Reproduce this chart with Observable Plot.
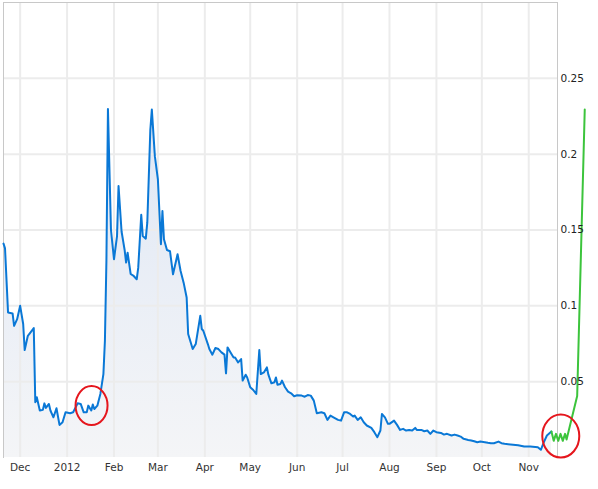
<!DOCTYPE html>
<html><head><meta charset="utf-8">
<script src="https://cdn.jsdelivr.net/npm/d3@7"></script>
<script src="https://cdn.jsdelivr.net/npm/@observablehq/plot@0.6"></script>
<style>body{margin:0;background:#fff}</style>
</head><body><div id="chart"></div>
<script>
const priceDates = ["2011-11-20","2011-11-21","2011-11-23","2011-11-26","2011-11-27","2011-11-29","2011-12-01","2011-12-03","2011-12-04","2011-12-06","2011-12-07","2011-12-10","2011-12-11","2011-12-12","2011-12-14","2011-12-16","2011-12-17","2011-12-18","2011-12-20","2011-12-21","2011-12-23","2011-12-25","2011-12-27","2011-12-29","2011-12-31",
"2012-01-03","2012-01-05","2012-01-08","2012-01-10","2012-01-12","2012-01-14","2012-01-15","2012-01-17","2012-01-18","2012-01-19","2012-01-21","2012-01-23","2012-01-25","2012-01-26","2012-01-27","2012-01-28","2012-01-30",
"2012-02-01","2012-02-03","2012-02-04","2012-02-06","2012-02-08","2012-02-09","2012-02-10","2012-02-12","2012-02-14","2012-02-16","2012-02-17","2012-02-19","2012-02-20","2012-02-22","2012-02-23","2012-02-25","2012-02-26","2012-02-28",
"2012-03-01","2012-03-03","2012-03-04","2012-03-05","2012-03-07","2012-03-09","2012-03-11","2012-03-14","2012-03-16","2012-03-18","2012-03-20","2012-03-21","2012-03-24","2012-03-26","2012-03-29","2012-03-30","2012-03-31",
"2012-04-03","2012-04-04","2012-04-06","2012-04-08","2012-04-10","2012-04-12","2012-04-14","2012-04-15","2012-04-16","2012-04-18","2012-04-20","2012-04-21","2012-04-23","2012-04-25","2012-04-26","2012-04-28","2012-04-29",
"2012-05-01","2012-05-03","2012-05-05","2012-05-07","2012-05-08","2012-05-10","2012-05-12","2012-05-13","2012-05-15","2012-05-17","2012-05-18","2012-05-19","2012-05-21","2012-05-22","2012-05-24","2012-05-26","2012-05-28","2012-05-30",
"2012-06-01","2012-06-04","2012-06-06","2012-06-08","2012-06-10","2012-06-12","2012-06-14","2012-06-17","2012-06-19","2012-06-21","2012-06-23","2012-06-25","2012-06-28","2012-06-30",
"2012-07-02","2012-07-04","2012-07-06","2012-07-08","2012-07-09","2012-07-11","2012-07-13","2012-07-15","2012-07-17","2012-07-20","2012-07-22","2012-07-24","2012-07-26","2012-07-27","2012-07-29","2012-07-31",
"2012-08-01","2012-08-04","2012-08-06","2012-08-08","2012-08-10","2012-08-12","2012-08-14","2012-08-16","2012-08-18","2012-08-19","2012-08-22","2012-08-24","2012-08-26","2012-08-28","2012-08-30",
"2012-09-01","2012-09-04","2012-09-06","2012-09-08","2012-09-11","2012-09-13","2012-09-15","2012-09-17","2012-09-19","2012-09-22","2012-09-24","2012-09-26","2012-09-28","2012-09-30",
"2012-10-03","2012-10-05","2012-10-07","2012-10-09","2012-10-12","2012-10-14","2012-10-16","2012-10-20","2012-10-25","2012-10-29",
"2012-11-02","2012-11-07","2012-11-09","2012-11-11","2012-11-13","2012-11-16"];
const priceValues = [0.141,0.138,0.0956,0.095,0.0868,0.0912,0.100,0.088,0.0708,0.080,0.0814,0.0853,0.0364,0.0397,0.031,0.0314,0.0357,0.0327,0.0353,0.031,0.0265,0.0325,0.0215,0.0232,0.0298,
0.0292,0.0298,0.0357,0.0353,0.0298,0.0298,0.0342,0.031,0.0349,0.032,0.0342,0.0419,0.055,0.077,0.13,0.2298,0.150,
0.1307,0.146,0.179,0.149,0.137,0.1285,0.135,0.121,0.1197,0.1175,0.125,0.160,0.146,0.1443,0.155,0.216,0.2294,0.1987,
0.1833,0.1406,0.1625,0.1439,0.1368,0.136,0.1208,0.134,0.123,0.1153,0.1055,0.0814,0.0715,0.0748,0.0934,0.0847,0.0836,
0.0748,0.0715,0.0678,0.0722,0.0715,0.0693,0.0678,0.0555,0.0726,0.0693,0.066,0.066,0.0627,0.0649,0.0507,0.0546,0.0528,
0.0463,0.0445,0.0419,0.0708,0.055,0.0561,0.0594,0.0546,0.0489,0.0496,0.0528,0.048,0.0485,0.0507,0.0463,0.0434,0.0423,0.0404,
0.041,0.0408,0.0401,0.0412,0.0408,0.0375,0.0292,0.0298,0.0292,0.0248,0.0276,0.0265,0.0248,0.0243,
0.0298,0.0298,0.0287,0.027,0.0276,0.0248,0.0265,0.0232,0.0211,0.0195,0.0167,0.0134,0.0178,0.0287,0.0265,0.0222,
0.0222,0.0243,0.0215,0.0182,0.0189,0.0178,0.0182,0.0178,0.0195,0.0182,0.0182,0.0173,0.0178,0.0156,0.0178,
0.0167,0.0162,0.0151,0.0156,0.0145,0.0151,0.0145,0.0138,0.0123,0.0116,0.0112,0.0107,0.0101,0.0105,
0.0101,0.0097,0.0094,0.0094,0.0105,0.0094,0.009,0.0086,0.0081,0.0072,
0.0072,0.0068,0.0051,0.0101,0.0145,0.0171];
const projectionDates = ["2012-11-16T00:00Z","2012-11-17T12:00Z","2012-11-19T00:00Z","2012-11-20T12:00Z","2012-11-22T00:00Z","2012-11-23T12:00Z","2012-11-25T00:00Z","2012-11-26T00:00Z","2012-12-03T00:00Z","2012-12-08T00:00Z"];
const projectionValues = [0.0171,0.011,0.0156,0.011,0.0156,0.011,0.0156,0.0118,0.0405,0.2294];
const monthTicks = ["2011-12-01","2012-01-01","2012-02-01","2012-03-01","2012-04-01","2012-05-01","2012-06-01","2012-07-01","2012-08-01","2012-09-01","2012-10-01","2012-11-01"];
const monthLabels = ["Dec","2012","Feb","Mar","Apr","May","Jun","Jul","Aug","Sep","Oct","Nov"];
const yTicks = [0.05,0.1,0.15,0.2,0.25];
const yLabels = ["0.05","0.1","0.15","0.2","0.25"];
const circleDates = ["2012-01-17T12:00Z","2012-11-22T12:00Z"];
const circleValues = [0.0339,0.0138];

const price = priceDates.map((d,i)=>({date:new Date(d), value:priceValues[i]}));
const projection = projectionDates.map((d,i)=>({date:new Date(d), value:projectionValues[i]}));
const circles = circleDates.map((d,i)=>({date:new Date(d), value:circleValues[i]}));
const xTicks = monthTicks.map(d=>new Date(d));

const defsMark = () => {
  const defs = d3.create("svg:defs");
  const g = defs.append("linearGradient").attr("id","areaFill")
    .attr("gradientUnits","userSpaceOnUse").attr("x1",0).attr("x2",0).attr("y1",100).attr("y2",457);
  g.append("stop").attr("offset","0%").attr("stop-color","#dfe7f5");
  g.append("stop").attr("offset","100%").attr("stop-color","#f4f5f7");
  return defs.node();
};
const ellipseMark = (index, scales) => {
  const g = d3.create("svg:g");
  const rx = [16, 18.5], ry = [19.5, 21.5];
  circles.forEach((c,i)=>{
    g.append("ellipse").attr("cx", scales.x(c.date)).attr("cy", scales.y(c.value))
      .attr("rx", rx[i]).attr("ry", ry[i]).attr("fill","none")
      .attr("stroke","#e5161d").attr("stroke-width",2);
  });
  return g.node();
};

const chart = Plot.plot({
  width: 598, height: 489,
  marginLeft: 3, marginRight: 41, marginTop: 2, marginBottom: 32,
  style: {fontFamily: "'DejaVu Sans', Verdana, sans-serif", fontSize: "10.5px", color: "#333", background: "#fff"},
  x: {type: "utc", domain: [new Date("2011-11-20"), new Date("2012-11-20")]},
  y: {domain: [0, 0.3]},
  marks: [
    defsMark,
    Plot.areaY(price, {x: "date", y: "value", fill: "url(#areaFill)"}),
    Plot.gridX({ticks: xTicks, stroke: "#ececec", strokeOpacity: 1, strokeWidth: 2}),
    Plot.gridY({ticks: yTicks, stroke: "#ececec", strokeOpacity: 1, strokeWidth: 2}),
    Plot.frame({anchor: "left", stroke: "#c8c8c8"}),
    Plot.frame({anchor: "top", stroke: "#c8c8c8"}),
    Plot.frame({anchor: "right", stroke: "#c8c8c8"}),
    Plot.lineY(price, {x: "date", y: "value", stroke: "#0a78d6", strokeWidth: 2}),
    Plot.lineY(projection, {x: "date", y: "value", stroke: "#3cc43c", strokeWidth: 2}),
    ellipseMark,
    Plot.axisX({ticks: xTicks, tickSize: 0, tickPadding: 6, tickFormat: d => monthLabels[xTicks.findIndex(t => +t === +d)], label: null}),
    Plot.axisY({anchor: "right", ticks: yTicks, tickSize: 0, tickPadding: 3, tickFormat: d => yLabels[yTicks.indexOf(d)], label: null, color: "#222"})
  ]
});
document.getElementById("chart").appendChild(chart);
</script>
</body></html>
